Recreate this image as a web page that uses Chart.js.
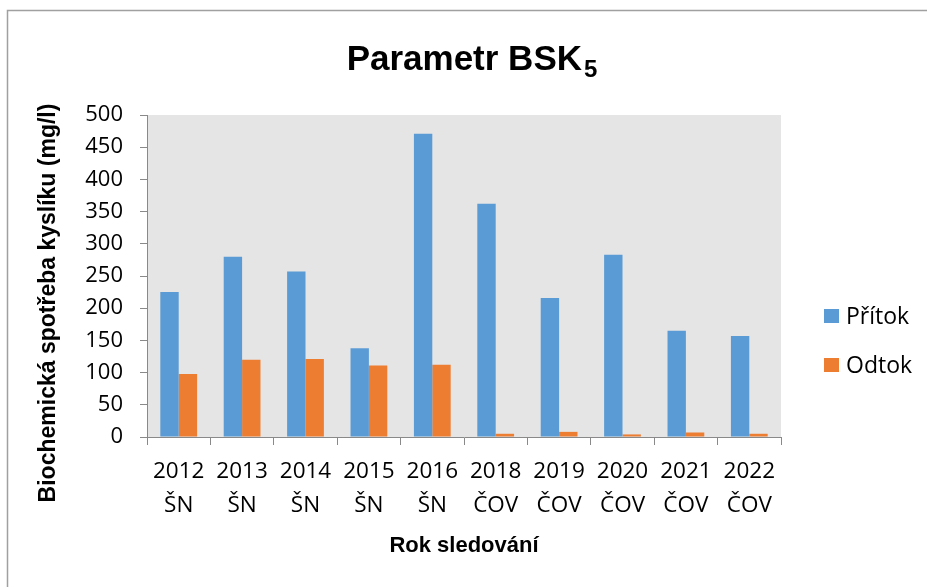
<!DOCTYPE html>
<html>
<head>
<meta charset="utf-8">
<script src="https://cdn.jsdelivr.net/npm/chart.js@4"></script>
<style>
  body { margin: 0; background: #fff; }
  #wrap { width: 927px; height: 587px; position: relative; }
</style>
</head>
<body>
<div id="wrap"><canvas id="bsk-chart"></canvas></div>
<script>
// Data
const years = ["2012", "2013", "2014", "2015", "2016", "2018", "2019", "2020", "2021", "2022"];
const sites = ["ŠN", "ŠN", "ŠN", "ŠN", "ŠN", "ČOV", "ČOV", "ČOV", "ČOV", "ČOV"];
const pritok = [225, 280, 257, 138, 471, 362, 216, 283, 165, 157];
const odtok = [98, 120, 121, 111, 112, 5, 8, 4, 7, 5];
const yTicks = [0, 50, 100, 150, 200, 250, 300, 350, 400, 450, 500];

const AXIS_GREY = "#898989";
const TICK_FONT = "'Open Sans', 'Liberation Sans', sans-serif";
const TITLE_FONT = "'Liberation Sans', Arial, sans-serif";

// Plot background, frame, titles and legend
const decor = {
  id: "decor",
  beforeDraw(chart) {
    const { ctx, chartArea: a } = chart;
    ctx.save();
    ctx.fillStyle = "#ffffff";
    ctx.fillRect(0, 0, chart.width, chart.height);
    ctx.fillStyle = "#e5e5e5";
    ctx.fillRect(a.left, a.top, a.right - a.left, a.bottom - a.top);
    ctx.restore();
  },
  afterDraw(chart) {
    const { ctx, chartArea: a } = chart;
    ctx.save();

    // outer frame (only left and top edges are visible)
    ctx.strokeStyle = "#a0a0a0";
    ctx.lineWidth = 1.5;
    ctx.beginPath();
    ctx.moveTo(7.5, chart.height);
    ctx.lineTo(7.5, 10.5);
    ctx.lineTo(chart.width, 10.5);
    ctx.stroke();

    ctx.fillStyle = "#000";
    ctx.textBaseline = "alphabetic";

    // chart title with subscript
    const main = "Parametr BSK";
    const sub = "5";
    ctx.font = "bold 35px " + TITLE_FONT;
    const w1 = ctx.measureText(main).width;
    ctx.font = "bold 24px " + TITLE_FONT;
    const w2 = ctx.measureText(sub).width;
    const tx = 472 - (w1 + w2 + 2) / 2;
    ctx.font = "bold 35px " + TITLE_FONT;
    ctx.textAlign = "left";
    ctx.fillText(main, tx, 70);
    ctx.font = "bold 24px " + TITLE_FONT;
    ctx.fillText(sub, tx + w1 + 2, 77);

    // x axis title
    ctx.font = "bold 22px " + TITLE_FONT;
    ctx.textAlign = "center";
    ctx.fillText("Rok sledování", (a.left + a.right) / 2, 552);

    // y axis title
    ctx.font = "bold 23px " + TITLE_FONT;
    ctx.save();
    ctx.translate(55, 303);
    ctx.rotate(-Math.PI / 2);
    ctx.fillText("Biochemická spotřeba kyslíku (mg/l)", 0, 0);
    ctx.restore();

    // legend
    ctx.font = "23px " + TICK_FONT;
    ctx.textAlign = "left";
    const rows = [309, 358];
    chart.data.datasets.forEach((ds, i) => {
      ctx.fillStyle = ds.backgroundColor;
      ctx.fillRect(824, rows[i], 15, 14);
      ctx.fillStyle = "#000";
      ctx.fillText(ds.label, 846, rows[i] + 15);
    });

    ctx.restore();
  }
};

const ctx = document.getElementById("bsk-chart").getContext("2d");
new Chart(ctx, {
  type: "bar",
  data: {
    labels: years.map((y, i) => [y, sites[i]]),
    datasets: [
      { label: "Přítok", data: pritok, backgroundColor: "#5b9bd5" },
      { label: "Odtok", data: odtok, backgroundColor: "#ed7d31" }
    ]
  },
  options: {
    responsive: true,
    maintainAspectRatio: false,
    animation: false,
    events: [],
    layout: { padding: { left: 0, top: 115, right: 146, bottom: 0 } },
    datasets: {
      bar: { categoryPercentage: 0.58, barPercentage: 1.0 }
    },
    plugins: {
      legend: { display: false },
      title: { display: false },
      tooltip: { enabled: false }
    },
    scales: {
      x: {
        afterFit: s => { s.height = 150; },
        grid: {
          drawOnChartArea: false,
          tickLength: 8,
          color: AXIS_GREY,
          offset: true
        },
        border: { color: AXIS_GREY },
        ticks: {
          color: "#000",
          padding: 9,
          font: { family: TICK_FONT, size: 22.5, lineHeight: 1.52 },
          maxRotation: 0,
          autoSkip: false
        }
      },
      y: {
        min: 0,
        max: 500,
        afterFit: s => { s.width = 147; },
        afterBuildTicks: s => { s.ticks = yTicks.map(v => ({ value: v })); },
        grid: {
          drawOnChartArea: false,
          tickLength: 7,
          color: AXIS_GREY
        },
        border: { color: AXIS_GREY },
        ticks: {
          color: "#000",
          padding: 17,
          font: { family: TICK_FONT, size: 22 }
        }
      }
    }
  },
  plugins: [decor]
});
</script>
</body>
</html>
